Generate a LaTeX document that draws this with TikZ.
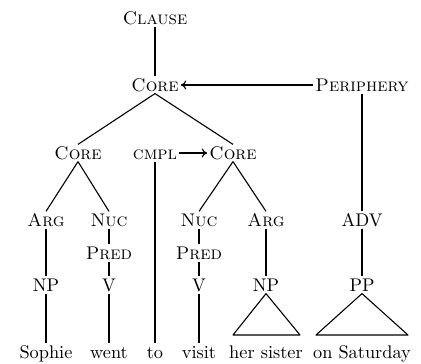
\documentclass[tikz,border=0pt]{standalone}
\usetikzlibrary{arrows.meta}
\begin{document}
\begin{tikzpicture}[x=0.546pt, y=-0.546pt,
  lbl/.style={inner sep=1pt, text height=7pt, text depth=0pt, font=\fontsize{10}{12}\selectfont},
  word/.style={lbl},
  edge/.style={line width=0.6pt},
  arr/.style={line width=0.6pt, -{To[length=3pt,width=5pt]}}]
\useasboundingbox (0,0) rectangle (421,364);

% clause and top core
\node[lbl] (clause) at (155,18) {\textsc{Clause}};
\node[lbl] (core)   at (155,85) {\textsc{Core}};
\node[lbl] (peri)   at (362,85) {\textsc{Periphery}};

% second level
\node[lbl] (coreL) at (78,153)  {\textsc{Core}};
\node[lbl] (cmpl)  at (155,153) {\textsc{cmpl}};
\node[lbl] (coreR) at (233,153) {\textsc{Core}};

% third level
\node[lbl] (argL) at (46,220)  {\textsc{Arg}};
\node[lbl] (nucL) at (109,220) {\textsc{Nuc}};
\node[lbl] (nucR) at (199,220) {\textsc{Nuc}};
\node[lbl] (argR) at (266,220) {\textsc{Arg}};
\node[lbl] (adv)  at (362,220) {ADV};

% predicates
\node[lbl] (predL) at (109,253) {\textsc{Pred}};
\node[lbl] (predR) at (199,253) {\textsc{Pred}};

% phrase level
\node[lbl] (npL) at (46,285)  {NP};
\node[lbl] (vL)  at (109,285) {V};
\node[lbl] (vR)  at (199,285) {V};
\node[lbl] (npR) at (266,285) {NP};
\node[lbl] (pp)  at (362,285) {PP};

% words
\node[word] (w1) at (46,352)  {Sophie};
\node[word] (w2) at (109,352) {went};
\node[word] (w3) at (155,352) {to};
\node[word] (w4) at (199,352) {visit};
\node[word] (w5) at (266,352) {her sister};
\node[word] (w6) at (362,352) {on Saturday};

% tree edges
\draw[edge] (clause.south) -- (core.north);
\draw[edge] (core.south) -- (coreL.north);
\draw[edge] (core.south) -- (coreR.north);
\draw[edge] (peri.south) -- (adv.north);
\draw[edge] (cmpl.south) -- (w3.north);

\draw[edge] (coreL.south) -- (argL.north);
\draw[edge] (coreL.south) -- (nucL.north);
\draw[edge] (coreR.south) -- (nucR.north);
\draw[edge] (coreR.south) -- (argR.north);

\draw[edge] (argL.south) -- (npL.north);
\draw[edge] (nucL.south) -- (predL.north);
\draw[edge] (predL.south) -- (vL.north);
\draw[edge] (nucR.south) -- (predR.north);
\draw[edge] (predR.south) -- (vR.north);
\draw[edge] (argR.south) -- (npR.north);
\draw[edge] (adv.south) -- (pp.north);

\draw[edge] (npL.south) -- (w1.north);
\draw[edge] (vL.south) -- (w2.north);
\draw[edge] (vR.south) -- (w4.north);

% roof triangles
\coordinate (npA) at (233,335);
\coordinate (npB) at (300,335);
\coordinate (ppA) at (316,335);
\coordinate (ppB) at (408,335);
\draw[edge, line join=round] (npR.south) -- (npA) -- (npB) -- cycle;
\draw[edge, line join=round] (pp.south) -- (ppA) -- (ppB) -- cycle;

% operator arrows
\draw[arr] (peri.west) -- (core.east);
\draw[arr] (cmpl.east) -- (coreR.west);
\end{tikzpicture}
\end{document}
